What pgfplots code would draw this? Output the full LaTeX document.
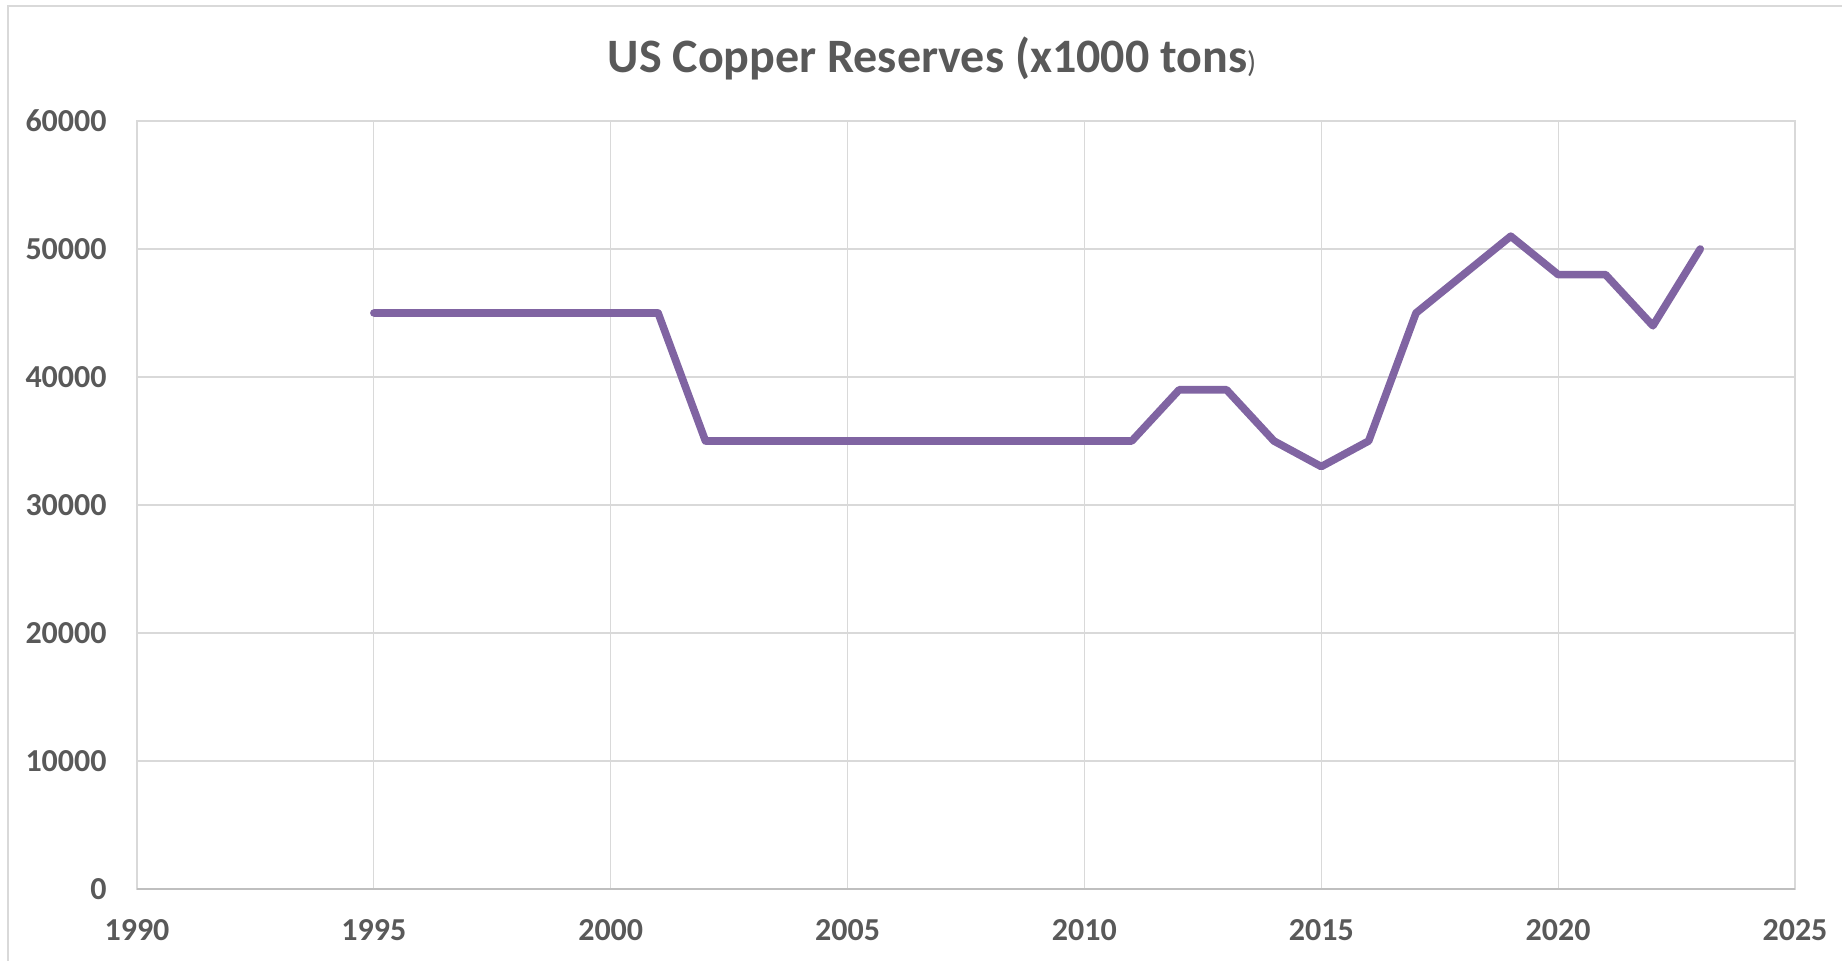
\documentclass[border=0pt]{standalone}
\usepackage{pgfplots}
\pgfplotsset{compat=1.18}
\usepackage{fontspec}
\setmainfont{Carlito}
\definecolor{txt}{HTML}{595959}
\definecolor{grd}{HTML}{D9D9D9}
\definecolor{axl}{HTML}{BFBFBF}
\definecolor{ln}{HTML}{8064A2}
\begin{document}
\begin{tikzpicture}
\path[use as bounding box] (0,0) rectangle (921pt,480.5pt);
\draw[grd, line width=0.9pt] (4pt,0) -- (4pt,477.5pt) -- (921pt,477.5pt);
\begin{axis}[
  scale only axis,
  width=829pt, height=384pt,
  at={(68.5pt,36pt)}, anchor=south west,
  xmin=1990, xmax=2025, ymin=0, ymax=60000,
  xtick={1990,1995,...,2025},
  ytick={0,10000,...,60000},
  scaled y ticks=false,
  /pgf/number format/1000 sep={},
  /pgf/number format/assume math mode=true,
  grid=major,
  major grid style={grd, line width=0.6pt},
  axis line style={grd, line width=0.6pt},
  tick style={draw=none},
  ticklabel style={font=\fontsize{16}{16}\selectfont\bfseries, text=txt},
  xticklabel style={anchor=north, inner sep=0pt, yshift=-15pt},
  yticklabel style={anchor=east, inner sep=0pt, xshift=-15pt},
  clip=false,
]
\addplot[ln, line width=3.8pt, line join=round, line cap=round] coordinates {
(1995,45000)(1996,45000)(1997,45000)(1998,45000)(1999,45000)(2000,45000)(2001,45000)
(2002,35000)(2003,35000)(2004,35000)(2005,35000)(2006,35000)(2007,35000)(2008,35000)(2009,35000)(2010,35000)(2011,35000)
(2012,39000)(2013,39000)(2014,35000)(2015,33000)(2016,35000)(2017,45000)(2018,48000)(2019,51000)
(2020,48000)(2021,48000)(2022,44000)(2023,50000)
};
\draw[axl, line width=0.8pt] (axis cs:1990,0) -- (axis cs:2025,0);
\end{axis}
\node[text=txt, font=\fontsize{24}{24}\selectfont\bfseries, inner sep=0pt] at (466pt,451.3pt) {US Copper Reserves (x1000 tons{\mdseries\fontsize{15}{15}\selectfont)}};
\end{tikzpicture}
\end{document}
